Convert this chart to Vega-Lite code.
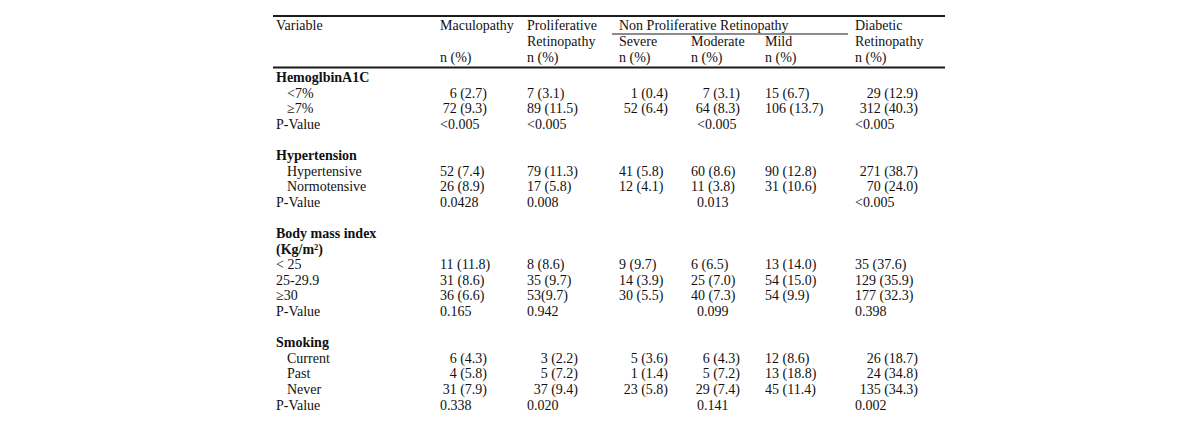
{
  "$schema": "https://vega.github.io/schema/vega-lite/v6.json",
  "width": 1200,
  "height": 431,
  "padding": 0,
  "autosize": {"type": "none"},
  "background": "white",
  "config": {
    "view": {"stroke": null},
    "text": {"font": "Liberation Serif", "fontSize": 14, "color": "#111111", "baseline": "alphabetic"}
  },
  "datasets": {
    "leftCells": [
      {"line": -5, "tab": 1, "label": "Variable"},
      {"line": -5, "tab": 3, "label": "Maculopathy"},
      {"line": -5, "tab": 5, "label": "Proliferative"},
      {"line": -5, "tab": 8, "label": "Non Proliferative Retinopathy"},
      {"line": -5, "tab": 15, "label": "Diabetic"},
      {"line": -3, "tab": 5, "label": "Retinopathy"},
      {"line": -3, "tab": 8, "label": "Severe"},
      {"line": -3, "tab": 10, "label": "Moderate"},
      {"line": -3, "tab": 13, "label": "Mild"},
      {"line": -3, "tab": 15, "label": "Retinopathy"},
      {"line": -2, "tab": 3, "label": "n (%)"},
      {"line": -2, "tab": 5, "label": "\u00a0n (%)"},
      {"line": -2, "tab": 8, "label": "n (%)"},
      {"line": -2, "tab": 10, "label": "n (%)"},
      {"line": -2, "tab": 13, "label": "n (%)"},
      {"line": -2, "tab": 15, "label": "n (%)"},
      {"line": 1, "tab": 2, "label": "<7%"},
      {"line": 1, "tab": 5, "label": "7 (3.1)"},
      {"line": 1, "tab": 13, "label": "15 (6.7)"},
      {"line": 2, "tab": 2, "label": "≥7%"},
      {"line": 2, "tab": 5, "label": "89 (11.5)"},
      {"line": 2, "tab": 13, "label": "106 (13.7)"},
      {"line": 3, "tab": 1, "label": "P-Value"},
      {"line": 3, "tab": 3, "label": "<0.005"},
      {"line": 3, "tab": 5, "label": "<0.005"},
      {"line": 3, "tab": 11, "label": "<0.005"},
      {"line": 3, "tab": 15, "label": "<0.005"},
      {"line": 6, "tab": 2, "label": "Hypertensive"},
      {"line": 6, "tab": 3, "label": "52 (7.4)"},
      {"line": 6, "tab": 5, "label": "79 (11.3)"},
      {"line": 6, "tab": 8, "label": "41 (5.8)"},
      {"line": 6, "tab": 10, "label": "60 (8.6)"},
      {"line": 6, "tab": 13, "label": "90 (12.8)"},
      {"line": 7, "tab": 2, "label": "Normotensive"},
      {"line": 7, "tab": 3, "label": "26 (8.9)"},
      {"line": 7, "tab": 5, "label": "17 (5.8)"},
      {"line": 7, "tab": 8, "label": "12 (4.1)"},
      {"line": 7, "tab": 10, "label": "11 (3.8)"},
      {"line": 7, "tab": 13, "label": "31 (10.6)"},
      {"line": 8, "tab": 1, "label": "P-Value"},
      {"line": 8, "tab": 3, "label": "0.0428"},
      {"line": 8, "tab": 5, "label": "0.008"},
      {"line": 8, "tab": 11, "label": "0.013"},
      {"line": 8, "tab": 15, "label": "<0.005"},
      {"line": 12, "tab": 1, "label": "< 25"},
      {"line": 12, "tab": 3, "label": "11 (11.8)"},
      {"line": 12, "tab": 5, "label": "8 (8.6)"},
      {"line": 12, "tab": 8, "label": "9 (9.7)"},
      {"line": 12, "tab": 10, "label": "6 (6.5)"},
      {"line": 12, "tab": 13, "label": "13 (14.0)"},
      {"line": 12, "tab": 15, "label": "35 (37.6)"},
      {"line": 13, "tab": 1, "label": "25-29.9"},
      {"line": 13, "tab": 3, "label": "31 (8.6)"},
      {"line": 13, "tab": 5, "label": "35 (9.7)"},
      {"line": 13, "tab": 8, "label": "14 (3.9)"},
      {"line": 13, "tab": 10, "label": "25 (7.0)"},
      {"line": 13, "tab": 13, "label": "54 (15.0)"},
      {"line": 13, "tab": 15, "label": "129 (35.9)"},
      {"line": 14, "tab": 1, "label": "≥30"},
      {"line": 14, "tab": 3, "label": "36 (6.6)"},
      {"line": 14, "tab": 5, "label": "53(9.7)"},
      {"line": 14, "tab": 8, "label": "30 (5.5)"},
      {"line": 14, "tab": 10, "label": "40 (7.3)"},
      {"line": 14, "tab": 13, "label": "54 (9.9)"},
      {"line": 14, "tab": 15, "label": "177 (32.3)"},
      {"line": 15, "tab": 1, "label": "P-Value"},
      {"line": 15, "tab": 3, "label": "0.165"},
      {"line": 15, "tab": 5, "label": "0.942"},
      {"line": 15, "tab": 11, "label": "0.099"},
      {"line": 15, "tab": 15, "label": "0.398"},
      {"line": 18, "tab": 2, "label": "Current"},
      {"line": 18, "tab": 13, "label": "12 (8.6)"},
      {"line": 19, "tab": 2, "label": "Past"},
      {"line": 19, "tab": 13, "label": "13 (18.8)"},
      {"line": 20, "tab": 2, "label": "Never"},
      {"line": 20, "tab": 13, "label": "45 (11.4)"},
      {"line": 21, "tab": 1, "label": "P-Value"},
      {"line": 21, "tab": 3, "label": "0.338"},
      {"line": 21, "tab": 5, "label": "0.020"},
      {"line": 21, "tab": 11, "label": "0.141"},
      {"line": 21, "tab": 15, "label": "0.002"}
    ],
    "rightCells": [
      {"line": 1, "tab": 4, "label": "6 (2.7)"},
      {"line": 1, "tab": 9, "label": "1 (0.4)"},
      {"line": 1, "tab": 12, "label": "7 (3.1)"},
      {"line": 1, "tab": 16, "label": "29 (12.9)"},
      {"line": 2, "tab": 4, "label": "72 (9.3)"},
      {"line": 2, "tab": 9, "label": "52 (6.4)"},
      {"line": 2, "tab": 12, "label": "64 (8.3)"},
      {"line": 2, "tab": 16, "label": "312 (40.3)"},
      {"line": 6, "tab": 16, "label": "271 (38.7)"},
      {"line": 7, "tab": 16, "label": "70 (24.0)"},
      {"line": 18, "tab": 4, "label": "6 (4.3)"},
      {"line": 18, "tab": 6, "label": "3 (2.2)"},
      {"line": 18, "tab": 9, "label": "5 (3.6)"},
      {"line": 18, "tab": 12, "label": "6 (4.3)"},
      {"line": 18, "tab": 16, "label": "26 (18.7)"},
      {"line": 19, "tab": 4, "label": "4 (5.8)"},
      {"line": 19, "tab": 6, "label": "5 (7.2)"},
      {"line": 19, "tab": 9, "label": "1 (1.4)"},
      {"line": 19, "tab": 12, "label": "5 (7.2)"},
      {"line": 19, "tab": 16, "label": "24 (34.8)"},
      {"line": 20, "tab": 4, "label": "31 (7.9)"},
      {"line": 20, "tab": 6, "label": "37 (9.4)"},
      {"line": 20, "tab": 9, "label": "23 (5.8)"},
      {"line": 20, "tab": 12, "label": "29 (7.4)"},
      {"line": 20, "tab": 16, "label": "135 (34.3)"}
    ],
    "groupLabels": [
      {"line": 0, "tab": 1, "label": "HemoglbinA1C"},
      {"line": 5, "tab": 1, "label": "Hypertension"},
      {"line": 10, "tab": 1, "label": "Body mass index"},
      {"line": 11, "tab": 1, "label": "(Kg/m²)"},
      {"line": 17, "tab": 1, "label": "Smoking"}
    ],
    "thickRules": [
      {"line": -6, "tab": 0, "tab2": 17},
      {"line": -1, "tab": 0, "tab2": 17}
    ],
    "thinRules": [
      {"line": -4, "tab": 7, "tab2": 14}
    ]
  },
  "encoding": {
    "x": {
      "field": "tab",
      "type": "quantitative",
      "axis": null,
      "scale": {
        "domain": [0, 1, 2, 3, 4, 5, 6, 7, 8, 9, 10, 11, 12, 13, 14, 15, 16, 17],
        "range": [273, 276, 287, 440, 487, 527, 578, 612, 619, 668, 691, 697, 740, 765, 848, 855, 918, 945],
        "nice": false,
        "zero": false
      }
    },
    "y": {
      "field": "line",
      "type": "quantitative",
      "axis": null,
      "scale": {
        "domain": [-6, -5, -4, -3, -2, -1, 0, 21],
        "range": [16, 30, 34, 46, 62, 67.5, 82, 409.6],
        "nice": false,
        "zero": false
      }
    }
  },
  "layer": [
    {
      "data": {"name": "thickRules"},
      "mark": {"type": "rule", "strokeWidth": 2, "color": "#1a1a1a"},
      "encoding": {"x2": {"field": "tab2"}}
    },
    {
      "data": {"name": "thinRules"},
      "mark": {"type": "rule", "strokeWidth": 1.2, "color": "#1a1a1a"},
      "encoding": {"x2": {"field": "tab2"}}
    },
    {
      "data": {"name": "leftCells"},
      "mark": {"type": "text", "align": "left"},
      "encoding": {"text": {"field": "label"}}
    },
    {
      "data": {"name": "rightCells"},
      "mark": {"type": "text", "align": "right"},
      "encoding": {"text": {"field": "label"}}
    },
    {
      "data": {"name": "groupLabels"},
      "mark": {"type": "text", "align": "left", "fontWeight": "bold"},
      "encoding": {"text": {"field": "label"}}
    }
  ]
}
